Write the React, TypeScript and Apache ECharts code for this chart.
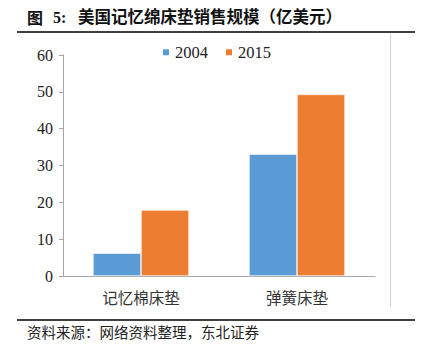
import React, { useEffect, useRef } from "react";
import * as echarts from "echarts";

const categories = ["记忆棉床垫", "弹簧床垫"];
const seriesNames = ["2004", "2015"];
const values2004 = [6.2, 33.1];
const values2015 = [17.9, 49.3];
const titleText = "美国记忆绵床垫销售规模（亿美元）";
const sourceText = "资料来源：网络资料整理，东北证券";

export default function App() {
  const ref = useRef<HTMLDivElement>(null);
  useEffect(() => {
    const chart = echarts.init(ref.current!, undefined, { renderer: "svg" });
    const serif = "'Liberation Serif', 'Noto Sans CJK SC', serif";
    const cjk = "'Noto Sans CJK SC', sans-serif";
    chart.setOption({
      animation: false,
      backgroundColor: "#ffffff",
      grid: { left: 63, right: 54, top: 55, bottom: 82, containLabel: false },
      legend: {
        data: seriesNames,
        left: 161,
        top: 44,
        padding: 0,
        itemWidth: 8,
        itemHeight: 8,
        itemGap: 16,
        icon: "rect",
        textStyle: { fontFamily: serif, fontSize: 16.5, color: "#222" },
      },
      xAxis: {
        type: "category",
        data: categories,
        axisLine: { lineStyle: { color: "#a6a6a6", width: 1 } },
        axisTick: { show: false },
        axisLabel: { fontFamily: cjk, fontSize: 15.5, color: "#333", margin: 13 },
      },
      yAxis: {
        type: "value",
        min: 0,
        max: 60,
        interval: 10,
        axisLine: { show: true, lineStyle: { color: "#a6a6a6", width: 1 } },
        axisTick: { show: true, length: 4, lineStyle: { color: "#a6a6a6" } },
        splitLine: { show: false },
        axisLabel: { fontFamily: serif, fontSize: 16, color: "#222", margin: 10 },
      },
      series: [
        {
          name: seriesNames[0],
          type: "bar",
          data: values2004,
          barWidth: 48,
          barGap: "0%",
          itemStyle: { color: "#5B9BD5", borderColor: "#ffffff", borderWidth: 0.6 },
        },
        {
          name: seriesNames[1],
          type: "bar",
          data: values2015,
          barWidth: 48,
          barGap: "0%",
          itemStyle: { color: "#ED7D31", borderColor: "#ffffff", borderWidth: 0.6 },
        },
      ],
      graphic: [
        { type: "text", left: 27, top: 9, style: { text: "图", font: `bold 16px ${cjk}`, fill: "#111" } },
        { type: "text", left: 53, top: 9, style: { text: "5:", font: `bold 16px ${serif}`, fill: "#111" } },
        { type: "text", left: 78, top: 8, style: { text: titleText, font: `bold 16.5px ${cjk}`, fill: "#111" } },
        { type: "line", shape: { x1: 17, y1: 32, x2: 415, y2: 32 }, style: { stroke: "#404040", lineWidth: 2 } },
        { type: "line", shape: { x1: 390.5, y1: 33, x2: 390.5, y2: 307 }, style: { stroke: "#d0d0d0", lineWidth: 1 } },
        { type: "line", shape: { x1: 17, y1: 320, x2: 415, y2: 320 }, style: { stroke: "#404040", lineWidth: 2 } },
        { type: "text", left: 27, top: 324, style: { text: sourceText, font: `14.5px ${cjk}`, fill: "#222" } },
      ],
    });
    return () => chart.dispose();
  }, []);
  return <div ref={ref} style={{ width: 429, height: 358, position: "absolute", left: 0, top: 0 }} />;
}
